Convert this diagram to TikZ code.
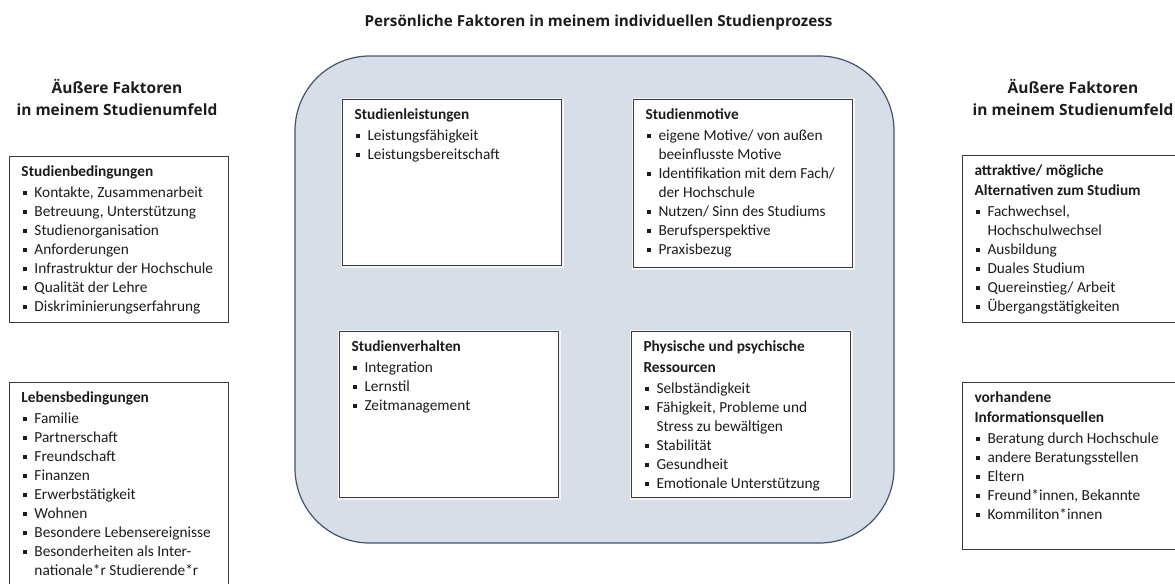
\documentclass[tikz,border=0pt]{standalone}
\usepackage{fontspec}
\setmainfont{Carlito}
\newfontfamily\headfont{Open Sans}

\definecolor{corefill}{HTML}{D7DEE8}
\definecolor{coreline}{HTML}{44546A}
\definecolor{boxline}{HTML}{3A3A3A}
\definecolor{ink}{HTML}{1C1C1C}

\tikzstyle{core} = [draw=coreline, line width=0.9pt, fill=corefill, rounded corners=56pt, minimum width=449.25pt, minimum height=365.25pt, inner sep=0pt]
\tikzstyle{factor} = [draw=boxline, line width=0.75pt, fill=white, inner sep=0pt, anchor=north west, text=ink]
\tikzstyle{inner factor} = [factor, preaction={draw=white, line width=3pt, opacity=0.7}]
\tikzstyle{header} = [anchor=base, inner sep=0pt, text=ink, font=\headfont\bfseries\fontsize{11.6}{16.5}\selectfont]
\tikzstyle{title} = [anchor=base, inner sep=0pt, text=ink, font=\headfont\bfseries\fontsize{11.4}{13}\selectfont]

% box contents: heading and bullet items
\newcommand{\boxtext}[2][124.5pt]{\hspace*{9pt}\begin{minipage}[t][#1][t]{155.25pt}\raggedright\fontsize{11.5}{14.25}\selectfont #2\end{minipage}}
\newcommand{\boxhead}[1]{\rule{0pt}{15pt}\textbf{#1}\par\vspace{1.5pt}}
\newcommand{\itm}[1]{\par\hangindent=9.75pt\hangafter=1\noindent\makebox[9.75pt][l]{\hspace{1pt}\rule[1.8pt]{3pt}{3pt}}#1}

\begin{document}
\begin{tikzpicture}[x=0.75pt, y=-0.75pt]
    \useasboundingbox (0,0) rectangle (1175,583);
    \clip (0,0) rectangle (1175,583);

    \node[title] (title) at (598.5,26) {Persönliche Faktoren in meinem individuellen Studienprozess};
    \foreach \pos/\name in {{(117,93)/lefthead}, {(1073,93)/righthead}} {
        \node[header] (\name) at \pos {\begin{tabular}[t]{@{}c@{}}Äußere Faktoren\\in meinem Studienumfeld\end{tabular}};
    }

    \node[core] (core) at (594.5,299.5) {};

    % outer factors, left
    \node[factor] (bedingungen) at (9,156) {\boxtext{\boxhead{Studienbedingungen}
        \itm{Kontakte, Zusammenarbeit}
        \itm{Betreuung, Unterstützung}
        \itm{Studienorganisation}
        \itm{Anforderungen}
        \itm{Infrastruktur der Hochschule}
        \itm{Qualität der Lehre}
        \itm{Diskriminierungserfahrung}}};
    \node[factor] (leben) at (9,382) {\boxtext[165pt]{\boxhead{Lebensbedingungen}
        \itm{Familie}
        \itm{Partnerschaft}
        \itm{Freundschaft}
        \itm{Finanzen}
        \itm{Erwerbstätigkeit}
        \itm{Wohnen}
        \itm{Besondere Lebensereignisse}
        \itm{Besonderheiten als Inter-\newline nationale*r Studierende*r}}};

    % personal factors
    \node[inner factor] (leistungen) at (342,99) {\boxtext{\boxhead{Studienleistungen}
        \itm{Leistungsfähigkeit}
        \itm{Leistungsbereitschaft}}};
    \node[inner factor] (motive) at (633,99) {\boxtext[126pt]{\boxhead{Studienmotive}
        \itm{eigene Motive/ von außen\newline beeinflusste Motive}
        \itm{Identifikation mit dem Fach/\newline der Hochschule}
        \itm{Nutzen/ Sinn des Studiums}
        \itm{Berufsperspektive}
        \itm{Praxisbezug}}};
    \node[inner factor] (verhalten) at (339,331) {\boxtext{\boxhead{Studienverhalten}
        \itm{Integration}
        \itm{Lernstil}
        \itm{Zeitmanagement}}};
    \node[inner factor] (ressourcen) at (631,331) {\boxtext{\boxhead{Physische und psychische\\[1.5pt]Ressourcen}
        \itm{Selbständigkeit}
        \itm{Fähigkeit, Probleme und\newline Stress zu bewältigen}
        \itm{Stabilität}
        \itm{Gesundheit}
        \itm{Emotionale Unterstützung}}};

    % outer factors, right
    \node[factor] (alternativen) at (962,155) {\boxtext[125.25pt]{\boxhead{attraktive/ mögliche\\[1pt]Alternativen zum Studium}
        \itm{Fachwechsel,\newline Hochschulwechsel}
        \itm{Ausbildung}
        \itm{Duales Studium}
        \itm{Quereinstieg/ Arbeit}
        \itm{Übergangstätigkeiten}}};
    \node[factor] (quellen) at (962,382) {\boxtext[125.25pt]{\boxhead{vorhandene\\[1pt]Informationsquellen}
        \itm{Beratung durch Hochschule}
        \itm{andere Beratungsstellen}
        \itm{Eltern}
        \itm{Freund*innen, Bekannte}
        \itm{Kommiliton*innen}}};
\end{tikzpicture}
\end{document}
